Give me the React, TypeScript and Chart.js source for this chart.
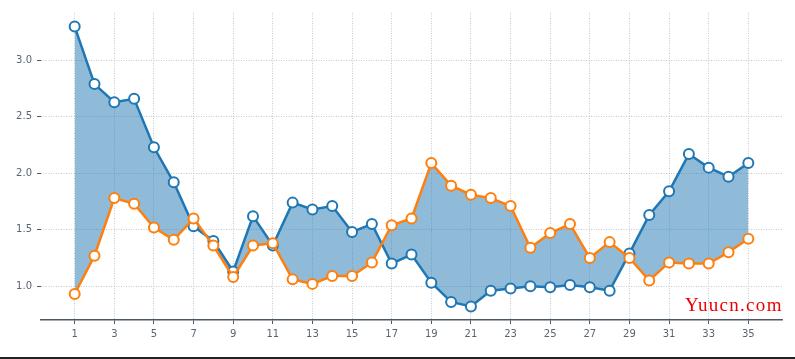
import React, { useEffect, useRef } from "react";
import { Chart, registerables } from "chart.js";

Chart.register(...registerables);

const xValues = Array.from({ length: 35 }, (_, i) => i + 1);
const xTickLabels = [1, 3, 5, 7, 9, 11, 13, 15, 17, 19, 21, 23, 25, 27, 29, 31, 33, 35];
const yTickLabels = [1.0, 1.5, 2.0, 2.5, 3.0];

const blueSeries = [
  3.3, 2.79, 2.63, 2.66, 2.23, 1.92, 1.53, 1.4, 1.13, 1.62,
  1.36, 1.74, 1.68, 1.71, 1.48, 1.55, 1.2, 1.28, 1.03, 0.86,
  0.82, 0.96, 0.98, 1.0, 0.99, 1.01, 0.99, 0.96, 1.29, 1.63,
  1.84, 2.17, 2.05, 1.97, 2.09,
];
const orangeSeries = [
  0.93, 1.27, 1.78, 1.73, 1.52, 1.41, 1.6, 1.36, 1.08, 1.36,
  1.38, 1.06, 1.02, 1.09, 1.09, 1.21, 1.54, 1.6, 2.09, 1.89,
  1.81, 1.78, 1.71, 1.34, 1.47, 1.55, 1.25, 1.39, 1.25, 1.05,
  1.21, 1.2, 1.2, 1.3, 1.42,
];

const BLUE = "#1f77b4";
const ORANGE = "#ff7f0e";

export default function App() {
  const ref = useRef<HTMLCanvasElement>(null);

  useEffect(() => {
    if (!ref.current) return;
    const tickFont = { family: "DejaVu Sans", size: 10 };
    const gridOpts = {
      color: "#b4bcc4",
      lineWidth: 0.8,
      drawTicks: true,
      tickLength: 4,
      tickColor: "#4a5866",
      tickBorderDash: [],
      tickWidth: 1,
    };
    const chart = new Chart(ref.current, {
      type: "line",
      data: {
        datasets: [
          {
            label: "blue",
            data: xValues.map((x, i) => ({ x, y: blueSeries[i] })),
            borderColor: BLUE,
            borderWidth: 2.5,
            backgroundColor: "rgba(31,119,180,0.5)",
            fill: "+1",
            pointRadius: 5,
            pointBorderWidth: 2,
            pointBackgroundColor: "#ffffff",
            pointBorderColor: BLUE,
            tension: 0,
            order: 1,
          },
          {
            label: "orange",
            data: xValues.map((x, i) => ({ x, y: orangeSeries[i] })),
            borderColor: ORANGE,
            borderWidth: 2.5,
            backgroundColor: "rgba(0,0,0,0)",
            fill: false,
            pointRadius: 5,
            pointBorderWidth: 2,
            pointBackgroundColor: "#ffffff",
            pointBorderColor: ORANGE,
            tension: 0,
            order: 0,
          },
        ],
      },
      options: {
        animation: false,
        responsive: false,
        maintainAspectRatio: false,
        layout: { padding: { top: 13, right: 13, left: 0, bottom: 0 } },
        plugins: {
          legend: { display: false },
          tooltip: { enabled: false },
          filler: { drawTime: "beforeDatasetsDraw" },
        },
        scales: {
          x: {
            type: "linear",
            min: -0.7,
            max: 36.7,
            afterBuildTicks: (axis: any) => {
              axis.ticks = xTickLabels.map((v) => ({ value: v }));
            },
            afterFit: (axis: any) => {
              axis.height = 37;
            },
            ticks: {
              color: "#5a6470",
              font: tickFont,
              padding: 4,
              maxRotation: 0,
              autoSkip: false,
              callback: (v: any) => String(v),
            },
            grid: gridOpts,
            border: { display: true, color: "#4a5866", width: 1.5, dash: [1, 1.5] },
          },
          y: {
            type: "linear",
            min: 0.7,
            max: 3.42,
            afterBuildTicks: (axis: any) => {
              axis.ticks = yTickLabels.map((v) => ({ value: v }));
            },
            afterFit: (axis: any) => {
              axis.width = 41;
            },
            ticks: {
              color: "#5a6470",
              font: tickFont,
              padding: 5,
              callback: (v: any) => Number(v).toFixed(1),
            },
            grid: gridOpts,
            border: { display: false, dash: [1, 1.5] },
          },
        },
      },
    });
    return () => chart.destroy();
  }, []);

  return (
    <div
      style={{
        position: "fixed",
        left: 0,
        top: 0,
        width: 795,
        height: 359,
        background: "#ffffff",
        overflow: "hidden",
      }}
    >
      <canvas ref={ref} width={795} height={357} style={{ display: "block" }} />
      <div
        style={{
          position: "absolute",
          left: 685,
          top: 294,
          color: "#ee0000",
          fontFamily: "'Liberation Serif', 'DejaVu Serif', serif",
          fontSize: 19,
          lineHeight: "22px",
          letterSpacing: 1.3,
        }}
      >
        Yuucn.com
      </div>
      <div
        style={{
          position: "absolute",
          left: 0,
          top: 357,
          width: 795,
          height: 2,
          background: "#222222",
        }}
      />
    </div>
  );
}
